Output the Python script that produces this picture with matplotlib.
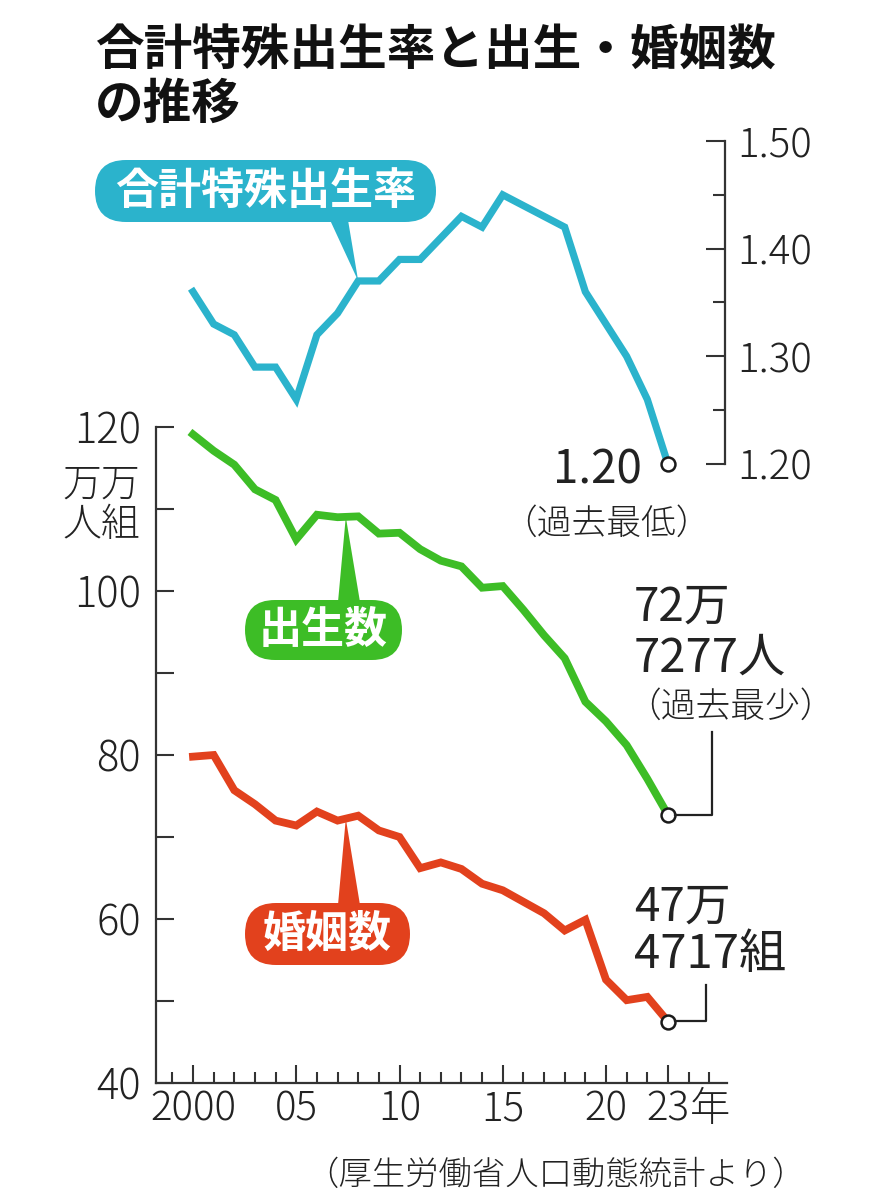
import matplotlib
matplotlib.use("Agg")
import matplotlib.pyplot as plt
import numpy as np
from matplotlib.patches import Polygon, FancyBboxPatch
from matplotlib.lines import Line2D
from matplotlib.transforms import IdentityTransform
from matplotlib.ticker import MultipleLocator, FixedLocator, FormatStrFormatter

plt.rcParams['font.family'] = ['Noto Sans CJK JP', 'DejaVu Sans']

# ---------------- data ----------------
years = list(range(2000, 2024))
tfr = [1.36, 1.33, 1.32, 1.29, 1.29, 1.26, 1.32, 1.34, 1.37, 1.37, 1.39, 1.39,
       1.41, 1.43, 1.42, 1.45, 1.44, 1.43, 1.42, 1.36, 1.33, 1.30, 1.26, 1.20]
births = [119.1, 117.1, 115.4, 112.4, 111.1, 106.3, 109.3, 109.0, 109.1, 107.0,
          107.1, 105.1, 103.7, 103.0, 100.4, 100.6, 97.7, 94.6, 91.8, 86.5,
          84.1, 81.2, 77.1, 72.7]
marriages = [79.8, 80.0, 75.7, 74.0, 72.0, 71.4, 73.1, 72.0, 72.6, 70.8, 70.0,
             66.2, 66.9, 66.1, 64.3, 63.5, 62.1, 60.7, 58.6, 59.9, 52.6, 50.1,
             50.5, 47.5]
xtick_pos = [2000, 2005, 2010, 2015, 2020, 2023]
xtick_labels = ["2000", "05", "10", "15", "20", "23"]

title = "合計特殊出生率と出生・婚姻数\nの推移"
label_tfr = "合計特殊出生率"
label_births = "出生数"
label_marr = "婚姻数"
source = "（厚生労働省人口動態統計より）"

C_TFR = "#2bb3cc"
C_BIR = "#3dbd26"
C_MAR = "#e2411d"
C_AX = "#333333"
C_TX = "#222222"

W, H = 886, 1200
fig = plt.figure(figsize=(W / 100, H / 100), dpi=100)
fig.patch.set_facecolor("white")


def fx(x):
    return x / W


def fy(y):
    return 1 - y / H


PX_YR = 20.65
X0 = 193  # pixel of year 2000

# main axes (births / marriages)
ax = fig.add_axes([fx(156), fy(1083), (727 - 156) / W, (1083 - 427) / H])
ax.set_xlim(2000 - (X0 - 156) / PX_YR, 2000 + (727 - X0) / PX_YR)
ax.set_ylim(40, 120)
ax.patch.set_alpha(0)
for s in ["top", "right"]:
    ax.spines[s].set_visible(False)
for s in ["left", "bottom"]:
    ax.spines[s].set_color(C_AX)
    ax.spines[s].set_linewidth(1.6)

ax.xaxis.set_major_locator(FixedLocator(xtick_pos))
ax.set_xticklabels(xtick_labels)
ax.xaxis.set_minor_locator(MultipleLocator(1))
ax.tick_params(axis="x", which="major", direction="in", length=13, width=1.5,
               color=C_AX, labelsize=29, labelcolor=C_TX, pad=4)
ax.tick_params(axis="x", which="minor", direction="in", length=8, width=1.5,
               color=C_AX)
ax.yaxis.set_major_locator(MultipleLocator(20))
ax.yaxis.set_minor_locator(MultipleLocator(10))
ax.tick_params(axis="y", which="both", direction="in", length=13, width=1.5,
               color=C_AX, labelsize=30, labelcolor=C_TX, pad=11)
for lab in ax.get_xticklabels() + ax.get_yticklabels():
    lab.set_fontweight("light")

# TFR axes
ax2 = fig.add_axes([fx(156), fy(464), (725 - 156) / W, (464 - 141) / H])
ax2.set_xlim(2000 - (X0 - 156) / PX_YR, 2000 + (725 - X0) / PX_YR)
ax2.set_ylim(1.20, 1.50)
ax2.patch.set_alpha(0)
for s in ["top", "left", "bottom"]:
    ax2.spines[s].set_visible(False)
ax2.spines["right"].set_color(C_AX)
ax2.spines["right"].set_linewidth(1.6)
ax2.set_xticks([])
ax2.yaxis.tick_right()
ax2.yaxis.set_major_locator(MultipleLocator(0.1))
ax2.yaxis.set_minor_locator(MultipleLocator(0.05))
ax2.yaxis.set_major_formatter(FormatStrFormatter("%.2f"))
ax2.tick_params(axis="y", which="major", direction="in", length=14, width=1.5,
                color=C_AX, labelsize=29, labelcolor=C_TX, pad=9)
ax2.tick_params(axis="y", which="minor", direction="in", length=8.5, width=1.5,
                color=C_AX)
for lab in ax2.get_yticklabels():
    lab.set_fontweight("light")

# lines
ax2.plot(years, tfr, color=C_TFR, lw=5.2, solid_joinstyle="miter", clip_on=False, zorder=3)
ax.plot(years, births, color=C_BIR, lw=5.6, solid_joinstyle="miter", clip_on=False, zorder=3)
ax.plot(years, marriages, color=C_MAR, lw=5.6, solid_joinstyle="miter", clip_on=False, zorder=3)

ring = dict(marker="o", ms=10, mfc="white", mec="#1a1a1a", mew=1.8,
            clip_on=False, zorder=6, linestyle="none")
ax2.plot([years[-1]], [tfr[-1]], **ring)
ax.plot([years[-1]], [births[-1]], **ring)
ax.plot([years[-1]], [marriages[-1]], **ring)

# ---------- helpers in image pixel coords (top-left origin) ----------
ID = IdentityTransform()


def disp(p):  # image px -> display px
    return (p[0], H - p[1])


def pill(x0, y0, x1, y1, color, text, size):
    h = y1 - y0
    p = FancyBboxPatch((x0, H - y1), x1 - x0, h,
                       boxstyle=f"round,pad=0,rounding_size={h / 2}",
                       fc=color, ec="none", transform=ID, zorder=5)
    fig.add_artist(p)
    fig.text(fx((x0 + x1) / 2), fy((y0 + y1) / 2), text, color="white",
             fontsize=size, fontweight="bold", ha="center", va="center",
             zorder=6)


def pointer(axis, base, tip_data, color):
    tip = axis.transData.transform(tip_data)
    pts = [disp(base[0]), disp(base[1]), tuple(tip)]
    fig.add_artist(Polygon(pts, closed=True, fc=color, ec="none",
                           transform=ID, zorder=5))


def line_px(xs, ys, lw=1.6):
    fig.add_artist(Line2D(xs, ys, color=C_TX, lw=lw, transform=ID, zorder=4))


# labels with pointers
pill(95, 160, 436, 222, C_TFR, label_tfr, 31)
pointer(ax2, [(330, 220), (348, 220)], (2008, float(np.interp(2008, years, tfr))), C_TFR)

pill(245, 600, 402, 660, C_BIR, label_births, 31)
x_b = 2007.4
pointer(ax, [(338, 602), (360, 602)], (x_b, float(np.interp(x_b, years, births))), C_BIR)

pill(245, 903, 410, 965, C_MAR, label_marr, 31)
pointer(ax, [(338, 905), (360, 905)], (x_b, float(np.interp(x_b, years, marriages))), C_MAR)

# end annotations
fig.text(fx(642), fy(470), "1.20", fontsize=33, ha="right", va="center", color=C_TX)
fig.text(fx(606), fy(524), "（過去最低）", fontsize=25, ha="center", va="center",
         color=C_TX, fontweight="light")

fig.text(fx(634), fy(607), "72万", fontsize=33, ha="left", va="center", color=C_TX)
fig.text(fx(634), fy(658), "7277人", fontsize=34, ha="left", va="center", color=C_TX)
fig.text(fx(626), fy(707), "（過去最少）", fontsize=25, ha="left", va="center",
         color=C_TX, fontweight="light")
rb = ax.transData.transform((years[-1], births[-1]))
line_px([rb[0] + 7, 712, 712], [rb[1], rb[1], H - 732])

fig.text(fx(634), fy(907), "47万", fontsize=33, ha="left", va="center", color=C_TX)
fig.text(fx(634), fy(955), "4717組", fontsize=34, ha="left", va="center", color=C_TX)
rm = ax.transData.transform((years[-1], marriages[-1]))
line_px([rm[0] + 7, 706, 706], [rm[1], rm[1], H - 985])

# unit label
fig.text(fx(101), fy(505), "万万\n人組", fontsize=28, ha="center", va="center",
         linespacing=1.0, color=C_TX, fontweight="light")
# 年 after last tick label
fig.text(fx(690), fy(1110), "年", fontsize=29, ha="left", va="center",
         color=C_TX, fontweight="light")

# title and source
fig.text(fx(95), fy(27), title, fontsize=35, fontweight="bold", ha="left",
         va="top", linespacing=1.1, color="#111111")
fig.text(fx(556), fy(1176), source, fontsize=24, ha="center", va="center",
         color=C_TX, fontweight="light")

fig.savefig("out.png", dpi=100, facecolor="white")
